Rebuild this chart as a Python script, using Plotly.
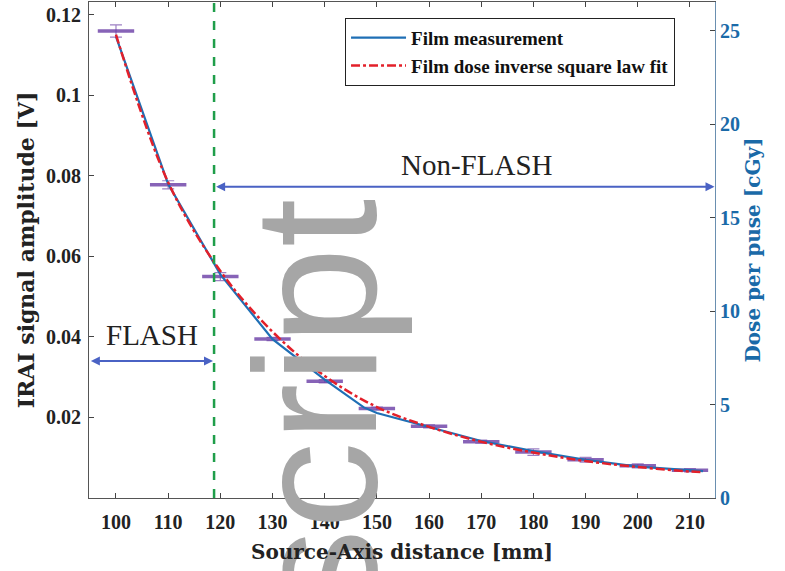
import plotly.graph_objects as go

# IRAI signal amplitude (left axis), box-like markers with error bars
irai_x = [100, 110, 120, 130, 140, 150, 160, 170, 180, 190, 200, 210]
irai_v = [0.1160, 0.0778, 0.0550, 0.0395, 0.0290, 0.0222, 0.0178, 0.0140, 0.0114, 0.0095, 0.0080, 0.0069]
irai_err = [0.0015, 0.0010, 0.0010, 0.0004, 0.0004, 0.0004, 0.0004, 0.0004, 0.0008, 0.0006, 0.0005, 0.0004]

# Film measurement dose (right axis)
film_x = [100, 110, 120, 130, 140, 147.5, 150, 160, 170, 180, 190, 200, 210, 212.5]
film_dose = [24.7, 16.8, 11.97, 8.5, 6.34, 4.85, 4.55, 3.8, 3.05, 2.51, 2.04, 1.68, 1.47, 1.44]

# Film dose inverse square law fit (right axis)
fit_x = [100, 110, 120, 130, 140, 150, 160, 170, 180, 190, 200, 210, 212.5]
fit_dose = [24.8, 16.9, 12.15, 8.9, 6.53, 4.87, 3.81, 3.01, 2.43, 1.98, 1.66, 1.42, 1.39]

x_ticks = [100, 110, 120, 130, 140, 150, 160, 170, 180, 190, 200, 210]
left_ticks = [0.02, 0.04, 0.06, 0.08, 0.1, 0.12]
left_ticktext = ["0.02", "0.04", "0.06", "0.08", "0.1", "0.12"]
right_ticks = [0, 5, 10, 15, 20, 25]

flash_boundary = 118.8

SERIF = "Liberation Serif"
WIDE = "DejaVu Serif"
BLUE_AX = "#1a6aa8"

fig = go.Figure()

fig.add_trace(go.Scatter(
    x=film_x, y=film_dose, yaxis="y2", mode="lines",
    line=dict(color="#1f6fb5", width=2.2),
    name="Film measurement"))
fig.add_trace(go.Scatter(
    x=fit_x, y=fit_dose, yaxis="y2", mode="lines",
    line=dict(color="#e3202a", width=2.5, dash="dashdot", shape="spline"),
    name="Film dose inverse square law fit"))
fig.add_trace(go.Scatter(
    x=irai_x, y=irai_v, mode="markers", showlegend=False,
    marker=dict(symbol="line-ew", size=26, line=dict(width=3.5, color="rgba(105,60,165,0.8)")),
    error_y=dict(type="data", array=irai_err, color="rgba(105,60,165,0.65)", thickness=1.2, width=6)))

# green dashed boundary
fig.add_shape(type="line", x0=flash_boundary, x1=flash_boundary, y0=0, y1=1,
              xref="x", yref="paper", line=dict(color="#1f9e4a", width=2.5, dash="dash"))

arrow_col = "#4a62c4"
# Non-FLASH arrow
fig.add_annotation(x=214.7, y=0.0773, ax=flash_boundary + 0.1, ay=0.0773,
                   xref="x", yref="y", axref="x", ayref="y", text="",
                   showarrow=True, arrowhead=2, arrowside="end+start", arrowsize=0.9,
                   arrowwidth=2, arrowcolor=arrow_col)
fig.add_annotation(x=169.2, y=0.0826, xref="x", yref="y", text="Non-FLASH",
                   showarrow=False, font=dict(family=SERIF, size=29, color="#222"))
# FLASH arrow
fig.add_annotation(x=118.6, y=0.0340, ax=94.9, ay=0.0340,
                   xref="x", yref="y", axref="x", ayref="y", text="",
                   showarrow=True, arrowhead=2, arrowside="end+start", arrowsize=0.9,
                   arrowwidth=2, arrowcolor=arrow_col)
fig.add_annotation(x=106.9, y=0.0405, xref="x", yref="y", text="FLASH",
                   showarrow=False, font=dict(family=SERIF, size=29, color="#222"))

# watermark (shape label: above the traces, below the axis title)
fig.add_shape(type="rect", xref="paper", yref="paper",
              x0=0.258, x1=0.412, y0=-0.25, y1=0.614,
              line=dict(width=0), fillcolor="rgba(0,0,0,0)", layer="above",
              label=dict(text="script", textangle=-90, textposition="middle center",
                         font=dict(family="Liberation Sans", size=175, color="#a6a6a6")))

tick_font = dict(family=SERIF, size=20, color="#222", weight="bold")

fig.update_layout(
    width=785, height=571,
    margin=dict(l=89, r=70, t=2, b=73),
    paper_bgcolor="white", plot_bgcolor="white",
    showlegend=True,
    legend=dict(x=0.409, y=0.968, xanchor="left", yanchor="top",
                bgcolor="white", bordercolor="#222", borderwidth=1,
                font=dict(family=SERIF, size=19, color="#111", weight="bold"),
                itemwidth=55, tracegroupgap=0),
    xaxis=dict(range=[94.83, 214.8], tickvals=x_ticks, ticks="inside", ticklen=5,
               showline=True, linecolor="#555", linewidth=1, mirror="ticks",
               showgrid=False, zeroline=False, tickfont=tick_font, automargin=False,
               ticklabelstandoff=6,
               title=dict(text="Source-Axis distance [mm]", standoff=12,
                          font=dict(family=WIDE, size=20, color="#222", weight="bold"))),
    yaxis=dict(range=[0, 0.1232], tickvals=left_ticks, ticktext=left_ticktext,
               ticks="inside", ticklen=5, showline=True, linecolor="#555", linewidth=1,
               showgrid=False, zeroline=False, tickfont=tick_font, automargin=False,
               ticklabelstandoff=3,
               title=dict(text="IRAI signal amplitude [V]", standoff=5,
                          font=dict(family=WIDE, size=22, color="#222", weight="bold"))),
    yaxis2=dict(range=[0, 26.55], tickvals=right_ticks, overlaying="y", side="right",
                ticks="inside", ticklen=5, showline=True, linecolor="#6a8fb0", linewidth=1,
                showgrid=False, zeroline=False, automargin=False,
                tickfont=dict(family=SERIF, size=20, color=BLUE_AX, weight="bold"),
                title=dict(text="Dose per puse [cGy]", standoff=6,
                           font=dict(family=WIDE, size=20, color=BLUE_AX, weight="bold"))),
)

fig.write_html("out.html")
